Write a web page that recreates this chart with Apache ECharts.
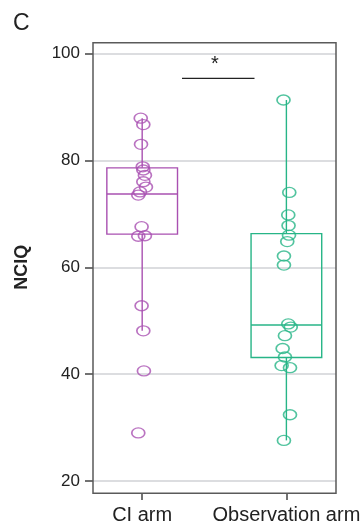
<!DOCTYPE html>
<html>
<head>
<meta charset="utf-8">
<script src="https://cdn.jsdelivr.net/npm/echarts@6/dist/echarts.min.js"></script>
<style>
  html, body { margin: 0; padding: 0; background: #ffffff; }
  #chart { width: 364px; height: 528px; }
</style>
</head>
<body>
<div id="chart"></div>
<script>
// Groups on the x axis and their positions
const groups = ['CI arm', 'Observation arm'];
const groupPos = [0, 1];

// NCIQ scores per participant
const ciValues  = [87.9, 86.7, 83.0, 78.8, 78.2, 77.2, 76.0, 75.0, 74.1, 73.5, 67.6, 65.8, 65.9, 52.8, 48.1, 40.6, 29.0];
const ciJitter  = [-0.010, 0.008, -0.008, 0.004, 0.008, 0.019, 0.008, 0.026, -0.015, -0.027, -0.004, -0.027, 0.019, -0.004, 0.008, 0.012, -0.027];
const obsValues = [91.3, 74.0, 69.8, 67.8, 66.0, 64.8, 62.1, 60.4, 49.4, 48.8, 47.2, 44.8, 43.2, 41.6, 41.2, 32.4, 27.6];
const obsJitter = [-0.020, 0.020, 0.013, 0.015, 0.018, 0.006, -0.017, -0.017, 0.013, 0.030, -0.010, -0.026, -0.010, -0.033, 0.025, 0.025, -0.017];

// Box summaries: lower whisker, Q1, median, Q3, upper whisker
const ciBox  = [48.1, 66.2, 73.7, 78.6, 87.9];
const obsBox = [27.6, 43.1, 49.2, 66.3, 91.3];

// Y axis ticks
const yTicks = [20, 40, 60, 80, 100];

const colors = ['#a950b1', '#27b587'];
const FONT = '"Liberation Sans", Arial, sans-serif';

function renderBox(params, api) {
  const x = api.value(0);
  const lo  = api.coord([x, api.value(1)]);
  const q1  = api.coord([x, api.value(2)]);
  const med = api.coord([x, api.value(3)]);
  const q3  = api.coord([x, api.value(4)]);
  const hi  = api.coord([x, api.value(5)]);
  const half = api.size([0.49, 0])[0] / 2;
  const st = { stroke: api.visual('color'), lineWidth: 1.4, fill: null };
  return {
    type: 'group',
    children: [
      { type: 'line', shape: { x1: lo[0], y1: lo[1], x2: q1[0], y2: q1[1] }, style: st },
      { type: 'line', shape: { x1: q3[0], y1: q3[1], x2: hi[0], y2: hi[1] }, style: st },
      { type: 'rect', shape: { x: q3[0] - half, y: q3[1], width: half * 2, height: q1[1] - q3[1] }, style: st },
      { type: 'line', shape: { x1: med[0] - half, y1: med[1], x2: med[0] + half, y2: med[1] }, style: st }
    ]
  };
}

function boxSeries(idx, box) {
  return {
    type: 'custom',
    renderItem: renderBox,
    itemStyle: { color: colors[idx] },
    encode: { x: 0, y: [1, 2, 3, 4, 5] },
    data: [[groupPos[idx]].concat(box)],
    silent: true,
    z: 3
  };
}

function pointSeries(idx, values, jitter) {
  return {
    type: 'scatter',
    symbol: 'circle',
    symbolSize: [13, 10],
    itemStyle: { color: 'rgba(0,0,0,0)', borderColor: colors[idx], borderWidth: 1.5 },
    data: values.map((v, i) => [groupPos[idx] + jitter[i], v]),
    silent: true,
    z: 4
  };
}

const chart = echarts.init(document.getElementById('chart'), null, { renderer: 'canvas' });

chart.setOption({
  animation: false,
  backgroundColor: '#ffffff',
  grid: { left: 93, right: 28, top: 53.5, bottom: 47, containLabel: false, outerBoundsMode: 'none' },
  xAxis: {
    type: 'value',
    min: -0.341,
    max: 1.344,
    offset: 12,
    axisLine: { show: false, onZero: false },
    axisTick: { show: true, length: 7, customValues: groupPos, lineStyle: { color: '#444', width: 1.5 } },
    axisLabel: {
      customValues: groupPos,
      formatter: v => groups[Math.round(v)],
      margin: 12,
      fontSize: 20,
      fontFamily: FONT,
      color: '#222'
    },
    splitLine: { show: false }
  },
  yAxis: {
    type: 'value',
    min: yTicks[0],
    max: yTicks[yTicks.length - 1],
    interval: 20,
    name: 'NCIQ',
    nameLocation: 'middle',
    nameRotate: 90,
    nameGap: 62,
    nameTextStyle: { fontSize: 18, fontWeight: 'bold', fontFamily: FONT, color: '#222' },
    axisLine: { show: false, onZero: false },
    axisTick: { show: true, length: 8, lineStyle: { color: '#444', width: 1.5 } },
    axisLabel: { margin: 13, fontSize: 17, fontFamily: FONT, color: '#222' },
    splitLine: { show: true, lineStyle: { color: '#dcdde0', width: 2 } }
  },
  series: [
    boxSeries(0, ciBox),
    boxSeries(1, obsBox),
    pointSeries(0, ciValues, ciJitter),
    pointSeries(1, obsValues, obsJitter)
  ],
  graphic: [
    // panel frame
    { type: 'rect', z: 10, silent: true,
      shape: { x: 93, y: 42.7, width: 243, height: 450.6 },
      style: { fill: null, stroke: '#5a5a5a', lineWidth: 1.5 } },
    // significance bar
    { type: 'line', z: 10, silent: true,
      shape: { x1: 182, y1: 78.3, x2: 254.5, y2: 78.3 },
      style: { stroke: '#222', lineWidth: 1.3 } },
    { type: 'text', z: 10, silent: true, x: 215, y: 54,
      style: { text: '*', fontSize: 20, fontFamily: FONT, fill: '#222', textAlign: 'center' } },
    // panel letter
    { type: 'text', z: 10, silent: true, x: 13, y: 12,
      style: { text: 'C', fontSize: 23, fontFamily: FONT, fill: '#222' } }
  ]
});
</script>
</body>
</html>
